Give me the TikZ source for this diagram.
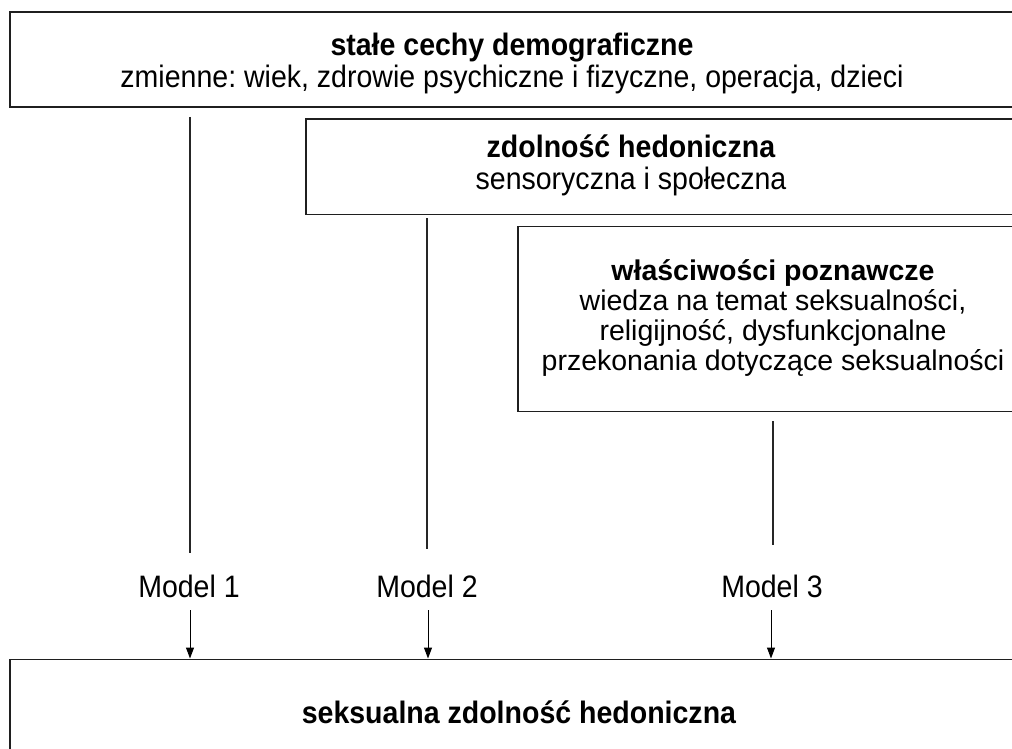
\documentclass[tikz,border=0pt]{standalone}
\usepackage{fontspec}
\setmainfont{Liberation Sans}
\newfontfamily\condfont[FakeStretch=0.92]{Liberation Sans}
\usetikzlibrary{arrows.meta}
\frenchspacing
\begin{document}
\begin{tikzpicture}[x=1pt,y=-1pt,
  box/.style={draw=black!88, line width=1.5pt, rectangle, inner sep=0pt, anchor=north west},
  txt/.style={align=center, inner sep=0pt, font=\condfont\fontsize{31}{32}\selectfont},
  txtc/.style={align=center, inner sep=0pt, font=\fontsize{28.5}{29.7}\selectfont},
  lab/.style={inner sep=0pt, font=\condfont\fontsize{31}{32}\selectfont},
  conn/.style={draw=black!85, line width=1.3pt},
  arr/.style={draw=black, line width=1pt, -{Triangle[length=11pt,width=8pt]}}]
\useasboundingbox (0,0) rectangle (1012,749);
\clip (0,0) rectangle (1012,749);
% boxes
\node[box, minimum width=1040pt, minimum height=95pt] (demo) at (9,11.5) {};
\node[box, minimum width=740pt, minimum height=95pt] (hed) at (305,118.5) {};
\node[box, minimum width=540pt, minimum height=185pt] (cog) at (517,225.5) {};
\node[box, minimum width=1040pt, minimum height=200pt] (out) at (9,658.5) {};
% texts
\node[txt] (t1) at (512,63) {\textbf{stałe cechy demograficzne}\\zmienne: wiek, zdrowie psychiczne i fizyczne, operacja, dzieci};
\node[txt] (t2) at (631,165) {\textbf{zdolność hedoniczna}\\sensoryczna i społeczna};
\node[txtc] (t3) at (773,318) {\textbf{właściwości poznawcze}\\wiedza na temat seksualności,\\religijność, dysfunkcjonalne\\przekonania dotyczące seksualności};
\node[txt] (t4) at (519,712) {\textbf{seksualna zdolność hedoniczna}};
% model labels
\node[lab] (m1) at (189,586) {Model 1};
\node[lab] (m2) at (427,586) {Model 2};
\node[lab] (m3) at (772,586) {Model 3};
% connectors
\coordinate (a1) at (190,117);
\coordinate (b1) at (190,553);
\coordinate (a2) at (427,218);
\coordinate (b2) at (427,549);
\coordinate (a3) at (773,421);
\coordinate (b3) at (773,545);
\draw[conn] (a1) -- (b1);
\draw[conn] (a2) -- (b2);
\draw[conn] (a3) -- (b3);
\coordinate (c1) at (190,610);
\coordinate (c2) at (428,610);
\coordinate (c3) at (771,610);
\draw[arr] (c1) -- (c1 |- out.north);
\draw[arr] (c2) -- (c2 |- out.north);
\draw[arr] (c3) -- (c3 |- out.north);
\end{tikzpicture}
\end{document}
